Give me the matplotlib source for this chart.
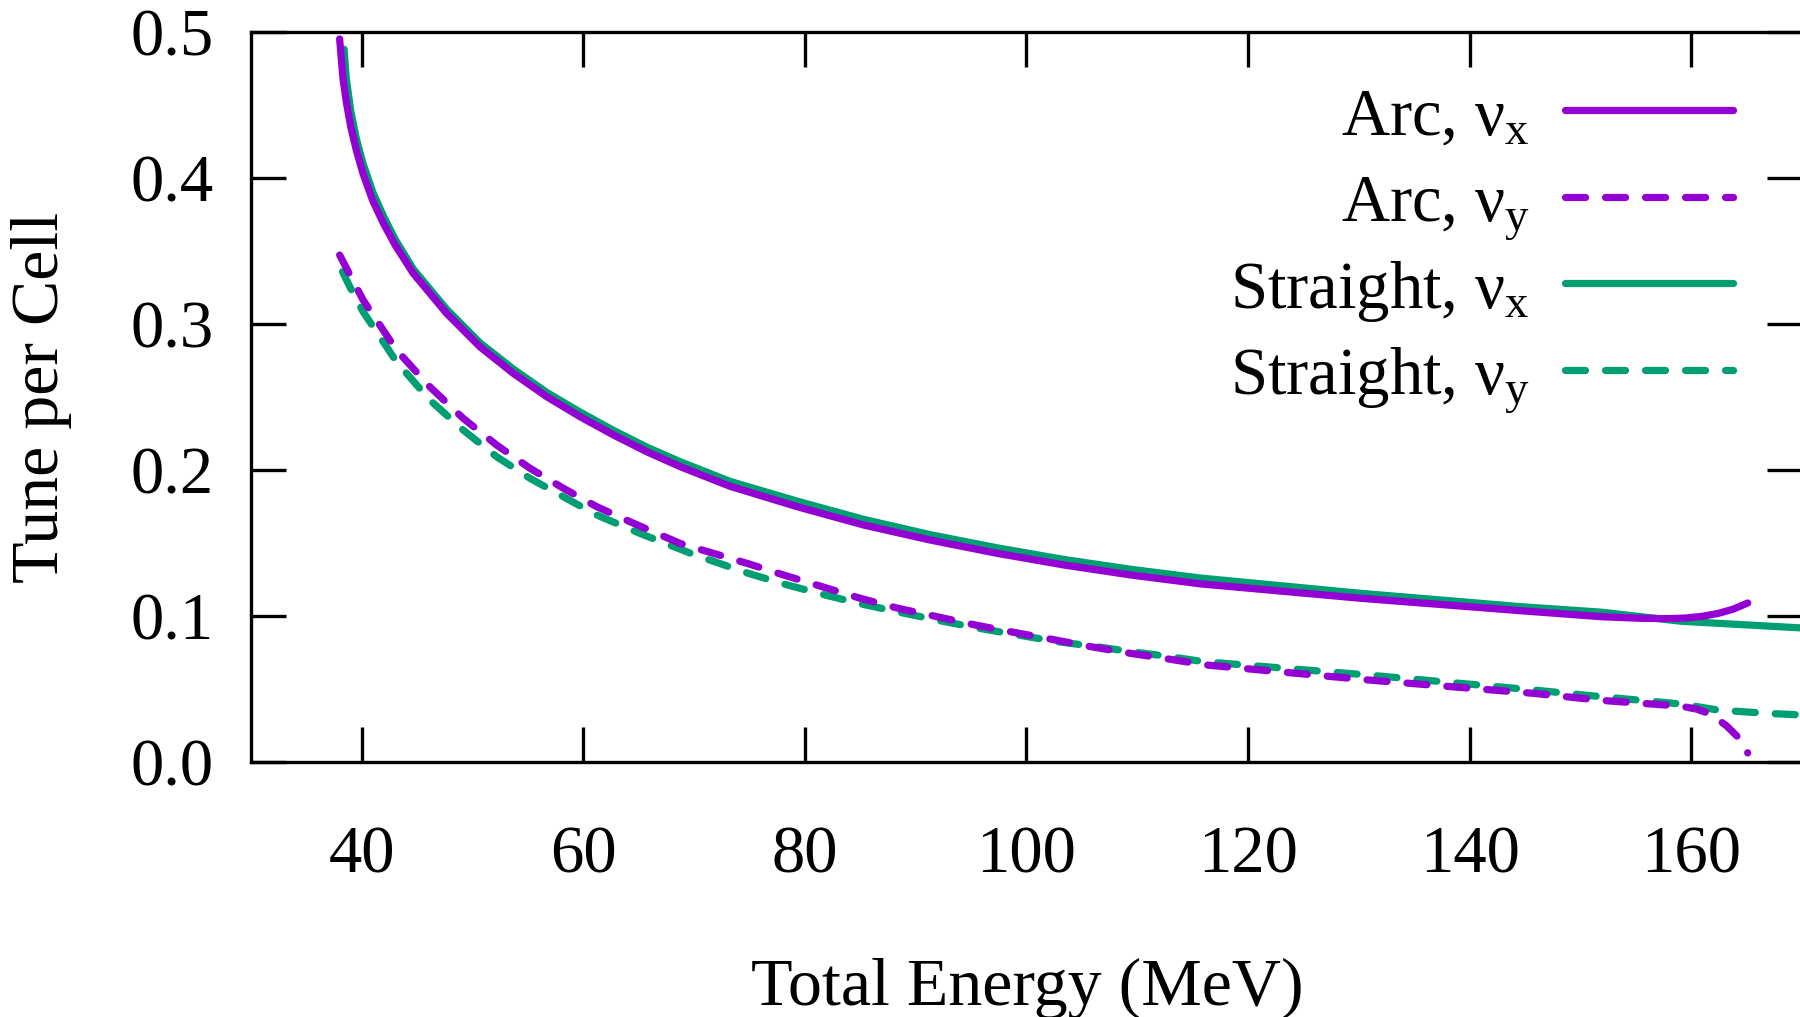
import numpy as np
import matplotlib
matplotlib.use('Agg')
import matplotlib.pyplot as plt
from matplotlib.lines import Line2D

plt.rcParams['font.family'] = ['Liberation Serif', 'DejaVu Serif']
plt.rcParams['mathtext.fontset'] = 'custom'
plt.rcParams['mathtext.rm'] = 'Liberation Serif'
plt.rcParams['mathtext.it'] = 'Liberation Serif:italic'
plt.rcParams['mathtext.bf'] = 'Liberation Serif:bold'

# values (energy in MeV, tune per cell)
arc_x_E = [38.0, 38.3, 38.6, 39.0, 39.5, 40.1, 41.0, 42.0, 43.0, 44.64, 47.65,
           50.66, 53.67, 56.69, 59.7, 62.71, 65.72, 68.73, 73.25, 79.28, 85.3,
           91.32, 97.35, 103.4, 109.4, 115.7, 130.2, 144.6, 151.9, 155.5,
           157.9, 159.5, 161.0, 162.4, 163.8, 165.1]
arc_x = [0.495, 0.468, 0.452, 0.435, 0.419, 0.403, 0.384, 0.368, 0.354, 0.3345,
         0.3071, 0.2842, 0.266, 0.25, 0.2363, 0.2238, 0.2123, 0.2021, 0.1886,
         0.1747, 0.1621, 0.1518, 0.1427, 0.1347, 0.1279, 0.1218, 0.1119,
         0.1034, 0.0993, 0.0982, 0.0980, 0.0984, 0.0996, 0.1015, 0.1045, 0.1087]

arc_y_E = [38.0, 40.12, 43.13, 46.14, 49.15, 52.17, 55.18, 58.19, 61.2, 64.2,
           68.73, 74.76, 78.07, 81.54, 85.0, 88.46, 91.93, 95.39, 98.85, 102.3,
           105.8, 109.4, 113.0, 116.3, 130.8, 145.8, 151.9, 157.0, 159.1,
           160.5, 161.6, 162.4, 163.2, 163.8, 164.4, 164.8, 165.1]
arc_y = [0.347, 0.3162, 0.282, 0.2568, 0.2352, 0.2169, 0.201, 0.1873, 0.1747,
         0.1644, 0.1495, 0.1359, 0.1279, 0.1199, 0.1119, 0.105, 0.0993, 0.0936,
         0.0886, 0.0838, 0.0788, 0.0742, 0.0701, 0.0662, 0.056, 0.0468, 0.042,
         0.0392, 0.0380, 0.0360, 0.0330, 0.0290, 0.0245, 0.0200, 0.0155,
         0.0110, 0.006]

str_x_E = [38.4, 38.6, 39.0, 39.5, 40.1, 41.0, 42.0, 43.0, 44.64, 47.65, 50.66,
           53.67, 56.69, 59.7, 62.71, 65.72, 68.73, 73.25, 79.28, 85.3, 91.32,
           97.35, 103.4, 109.4, 115.7, 130.2, 144.6, 151.9, 159.1, 165.0, 170.0]
str_x = [0.488, 0.468, 0.446, 0.427, 0.410, 0.390, 0.373, 0.358, 0.3375, 0.310,
         0.287, 0.269, 0.253, 0.2395, 0.227, 0.2155, 0.2055, 0.192, 0.1785,
         0.166, 0.1555, 0.1465, 0.1385, 0.1318, 0.1258, 0.1153, 0.1062,
         0.1024, 0.0962, 0.0937, 0.0916]

str_y_E = [38.26, 38.92, 40.12, 43.13, 46.14, 49.15, 52.17, 55.18, 58.19, 61.2,
           65.1, 70.0, 74.9, 78.2, 81.8, 85.1, 88.7, 92.3, 95.7, 99.2, 102.8,
           106.1, 109.5, 113.0, 116.0, 130.8, 145.8, 151.9, 159.1, 162.4,
           166.9, 170.0]
str_y = [0.3356, 0.3253, 0.3082, 0.274, 0.2477, 0.2272, 0.2089, 0.1941, 0.1815,
         0.169, 0.1564, 0.1418, 0.129, 0.1215, 0.1142, 0.108, 0.1021, 0.0964,
         0.0914, 0.0868, 0.0822, 0.0790, 0.0753, 0.0719, 0.0685, 0.0594,
         0.0491, 0.0445, 0.0395, 0.0354, 0.0331, 0.032]

labels = [r'Arc, $\mathrm{\nu}_{\mathrm{x}}$', r'Arc, $\mathrm{\nu}_{\mathrm{y}}$',
          r'Straight, $\mathrm{\nu}_{\mathrm{x}}$', r'Straight, $\mathrm{\nu}_{\mathrm{y}}$']

purple = '#9400D3'
green = '#009E73'
lw = 5.2
dash = (2.77, 2.77)
fs = 48

W, H = 1800, 1017
fig = plt.figure(figsize=(W / 100, H / 100), dpi=100)
ax = fig.add_axes([251 / W, 1 - 761.7 / H, (1802 - 251) / W, (761.7 - 31.7) / H])

styles = [(purple, '-'), (purple, '--'), (green, '-'), (green, '--')]
series = [(arc_x_E, arc_x), (arc_y_E, arc_y), (str_x_E, str_x), (str_y_E, str_y)]
order = [2, 3, 0, 1]  # straight drawn first, arc on top
for i in order:
    c, ls = styles[i]
    E, v = series[i]
    ln, = ax.plot(E, v, color=c, lw=lw, solid_capstyle='round',
                  dash_capstyle='round', solid_joinstyle='round')
    if ls == '--':
        ln.set_dashes(dash)

ax.set_xlim(30, 170)
ax.set_ylim(0, 0.5)
ax.set_xticks(np.arange(40, 161, 20))
ax.set_yticks(np.arange(0, 0.51, 0.1))
ax.yaxis.set_major_formatter(matplotlib.ticker.FormatStrFormatter('%.1f'))
ax.tick_params(direction='in', length=25, width=2.4, labelsize=fs,
               top=True, right=True)
ax.tick_params(axis='x', pad=46)
ax.tick_params(axis='y', pad=27)
for s in ax.spines.values():
    s.set_linewidth(2.4)

# key, gnuplot style: text right-aligned, sample line on the right
for i, lab in enumerate(labels):
    yl = 110 + 86.5 * i
    c, ls = styles[i]
    fig.text(1530 / W, 1 - (yl + 25) / H, lab, fontsize=fs, ha='right',
             va='baseline')
    sample = Line2D([1565 / W, 1733 / W], [1 - yl / H, 1 - yl / H],
                    transform=fig.transFigure, color=c, lw=lw,
                    solid_capstyle='round', dash_capstyle='round')
    if ls == '--':
        sample.set_dashes(dash)
    fig.add_artist(sample)

fig.text(1027 / W, 1 - 1005 / H, 'Total Energy (MeV)', fontsize=fs + 1,
         ha='center', va='baseline')
fig.text(42 / W, 1 - 397 / H, 'Tune per Cell', fontsize=fs + 1, rotation=90,
         ha='center', va='center')

fig.savefig('out.png', dpi=100)
